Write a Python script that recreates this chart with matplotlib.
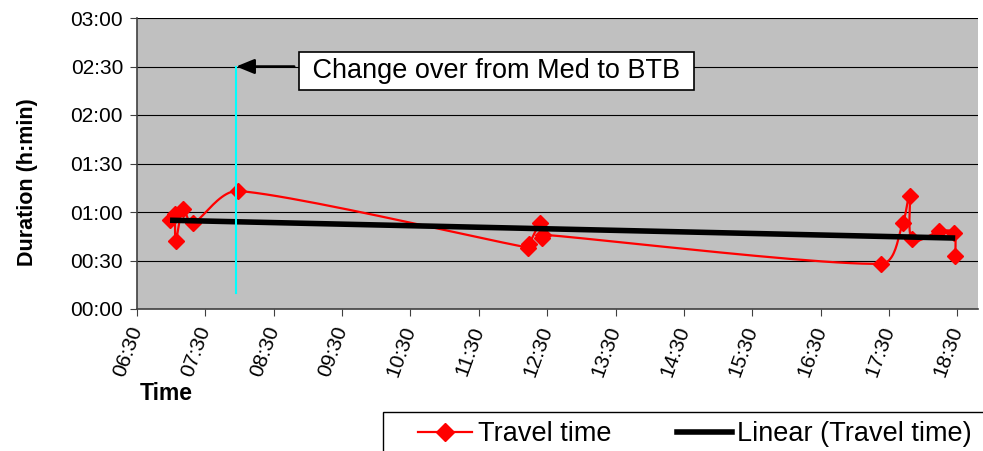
import numpy as np
import matplotlib.pyplot as plt
from matplotlib.ticker import FuncFormatter, MultipleLocator
from matplotlib.patches import Rectangle

plt.rcParams['font.family'] = ['Liberation Sans', 'DejaVu Sans']

# Departure time of each trip and its travel time (h:min), in recording order
times = ['06:59', '07:03', '07:04', '07:10', '07:19', '07:59',
         '12:13', '12:14', '12:24', '12:25', '12:26',
         '17:23', '17:42', '17:48', '17:50', '18:14', '18:27', '18:28']
durations = ['00:55', '00:59', '00:42', '01:02', '00:53', '01:13',
             '00:38', '00:40', '00:53', '00:44', '00:46',
             '00:28', '00:53', '01:10', '00:43', '00:48', '00:47', '00:33']

x_ticks = ['06:30', '07:30', '08:30', '09:30', '10:30', '11:30', '12:30',
           '13:30', '14:30', '15:30', '16:30', '17:30', '18:30']
changeover = '07:57'


def hours(s):
    h, m = s.split(':')
    return int(h) + int(m) / 60


def fmt_hm(v, pos=None):
    total = int(round(v * 60))
    return '%02d:%02d' % (total // 60, total % 60)


x = np.array([hours(t) for t in times])
y = np.array([hours(d) for d in durations])


def smooth(xs, ys, sx=68.5, sy=97.0, n=24):
    # smoothed line like Excel: cubic Bezier, tangents limited to the segment length
    p = np.column_stack([xs * sx, ys * sy])
    out = []
    for i in range(len(p) - 1):
        p0, p1, p2 = p[max(i - 1, 0)], p[i], p[i + 1]
        p3 = p[min(i + 2, len(p) - 1)]
        seg = np.linalg.norm(p2 - p1)
        d1 = (p2 - p0) / 6
        d2 = (p3 - p1) / 6
        for d in (d1, d2):
            nd = np.linalg.norm(d)
            if nd > seg / 3 and nd > 0:
                d *= (seg / 3) / nd
        c1, c2 = p1 + d1, p2 - d2
        t = np.linspace(0, 1, n)[:, None]
        out.append((1 - t)**3 * p1 + 3 * (1 - t)**2 * t * c1 + 3 * (1 - t) * t**2 * c2 + t**3 * p2)
    out = np.vstack(out)
    return out[:, 0] / sx, out[:, 1] / sy


fig = plt.figure(figsize=(9.83, 4.51), dpi=100)
ax = fig.add_axes([137 / 983, 1 - 309 / 451, (978 - 137) / 983, (309 - 18) / 451])
ax.set_facecolor('#C0C0C0')

# horizontal gridlines
for g in np.arange(0.5, 3.01, 0.5):
    ax.axhline(g, color='black', linewidth=0.8, zorder=1)

sx_, sy_ = smooth(x, y)
ax.plot(sx_, sy_, color='red', linewidth=1.6, zorder=3)
ax.plot(x, y, linestyle='none', marker='D', markersize=8, color='red', zorder=4)

# linear trend
k, b = np.polyfit(x, y, 1)
tx = np.array([x.min(), x.max()])
ax.plot(tx, k * tx + b, color='black', linewidth=4, zorder=5,
        solid_capstyle='butt')

# change over marker
cx = hours(changeover)
ax.plot([cx, cx], [hours('00:10'), hours('02:30')], color='#00FFFF', linewidth=1.5, zorder=6)
ax.annotate('', xy=(cx, 2.5), xytext=(8.8, 2.5),
            arrowprops=dict(arrowstyle='-|>,head_length=1.1,head_width=0.45',
                            color='black', lw=1.8, shrinkA=0, shrinkB=0),
            zorder=7)
ax.text(11.76, 2.455, ' Change over from Med to BTB ', ha='center', va='center', fontsize=19.5,
        bbox=dict(boxstyle='square,pad=0.22', fc='white', ec='black', lw=1.2), zorder=8)

ax.set_xlim(hours('06:30'), hours('18:48'))
ax.set_ylim(0, 3)
ax.set_xticks([hours(t) for t in x_ticks])
ax.set_xticklabels(x_ticks, rotation=70, fontsize=15, ha='right', va='center',
                   rotation_mode='anchor')
ax.yaxis.set_major_locator(MultipleLocator(0.5))
ax.yaxis.set_major_formatter(FuncFormatter(fmt_hm))
ax.tick_params(axis='y', labelsize=15, direction='out', length=5, color='#404040', pad=5)
ax.tick_params(axis='x', direction='out', length=5, color='#404040', pad=8)
for s in ['top', 'right']:
    ax.spines[s].set_visible(False)
for s in ['left', 'bottom']:
    ax.spines[s].set_color('#404040')
    ax.spines[s].set_linewidth(1.2)

ax.set_ylabel('Duration (h:min)', fontsize=15.5, fontweight='bold')
ax.yaxis.set_label_coords(-0.118, 0.436)
fig.text(140 / 983, 1 - 393 / 451, 'Time', fontsize=16.5, fontweight='bold', va='center')

# legend box
fig.patches.append(Rectangle((383 / 983, -0.05), 0.7, 1 - 412 / 451 + 0.05,
                             transform=fig.transFigure, fc='white', ec='black', lw=1))
h1, = ax.plot([], [], color='red', marker='D', markersize=9, linewidth=1.6)
h2, = ax.plot([], [], color='black', linewidth=4)
fig.legend([h1, h2], ['Travel time', 'Linear (Travel time)'], ncol=2, frameon=False,
           loc='center left', bbox_to_anchor=(418 / 983, 1 - 434 / 451), fontsize=19.5,
           handlelength=2.0, handletextpad=0.2, columnspacing=2.45, borderaxespad=0,
           borderpad=0)

fig.savefig('out.png', dpi=100)
